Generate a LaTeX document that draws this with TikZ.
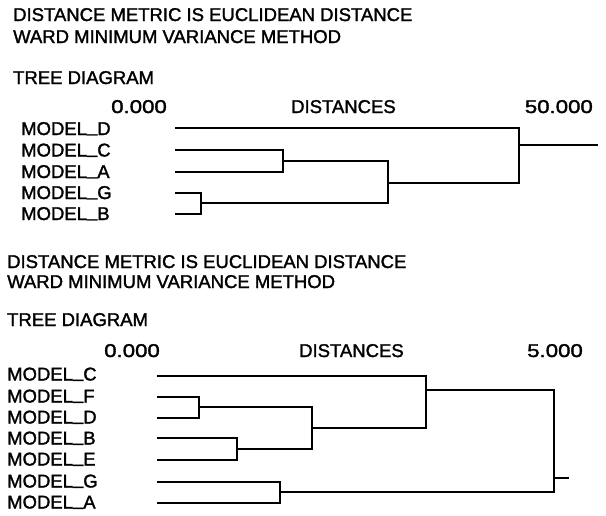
\documentclass[tikz,border=0pt]{standalone}
\usepackage{fontspec}
\setmainfont[FakeBold=1.6]{Liberation Sans}
\newcommand{\us}{\raisebox{3.2pt}{\_}}
\newcommand{\wnum}[1]{\scalebox{1.2}[1]{#1}}
\begin{document}
\begin{tikzpicture}[x=1pt,y=-1pt,
  txt/.style={inner sep=0pt, anchor=base west, font=\fontsize{18.5}{22}\selectfont},
  numtxt/.style={inner sep=0pt, anchor=base east, font=\fontsize{18.5}{22}\selectfont},
  tree/.style={line width=2pt, line cap=butt, line join=miter}]
\useasboundingbox (0,0) rectangle (606,515);
\fill[white] (0,0) rectangle (606,515);

% ---------- top diagram ----------
\node[txt] (h1a) at (13,21) {DISTANCE METRIC IS EUCLIDEAN DISTANCE};
\node[txt] (h1b) at (13,43) {WARD MINIMUM VARIANCE METHOD};
\node[txt] (h1c) at (13,84) {TREE DIAGRAM};
\node[numtxt] (z1) at (167,113) {\wnum{0.000}};
\node[txt] (d1) at (291,113) {DISTANCES};
\node[numtxt] (m1) at (593,113) {\wnum{50.000}};

\node[txt] (lD1) at (21,135) {MODEL\us D};
\node[txt] (lC1) at (21,156.5) {MODEL\us C};
\node[txt] (lA1) at (21,178) {MODEL\us A};
\node[txt] (lG1) at (21,199) {MODEL\us G};
\node[txt] (lB1) at (21,220) {MODEL\us B};

\coordinate (tD) at (175,128);
\coordinate (tC) at (175,150);
\coordinate (tA) at (175,172);
\coordinate (tG) at (175,193);
\coordinate (tB) at (175,214);
\coordinate (mCA) at (283,161);
\coordinate (mGB) at (201,203);
\coordinate (mCAGB) at (388,183);
\coordinate (mR1) at (519,145);
\coordinate (eR1) at (598,145);

\draw[tree] (tC) -| (mCA) |- (tA);
\draw[tree] (tG) -| (mGB) |- (tB);
\draw[tree] (mCA) -| (mCAGB) |- (mGB);
\draw[tree] (tD) -| (mR1) |- (mCAGB);
\draw[tree] (mR1) -- (eR1);

% ---------- bottom diagram ----------
\node[txt] (h2a) at (7,268) {DISTANCE METRIC IS EUCLIDEAN DISTANCE};
\node[txt] (h2b) at (7,288) {WARD MINIMUM VARIANCE METHOD};
\node[txt] (h2c) at (7,326) {TREE DIAGRAM};
\node[numtxt] (z2) at (160,357) {\wnum{0.000}};
\node[txt] (d2) at (299,357) {DISTANCES};
\node[numtxt] (m2) at (583,357) {\wnum{5.000}};

\node[txt] (lC2) at (7,380.5) {MODEL\us C};
\node[txt] (lF2) at (7,402.5) {MODEL\us F};
\node[txt] (lD2) at (7,423.5) {MODEL\us D};
\node[txt] (lB2) at (7,444.5) {MODEL\us B};
\node[txt] (lE2) at (7,465.5) {MODEL\us E};
\node[txt] (lG2) at (7,487.5) {MODEL\us G};
\node[txt] (lA2) at (7,508.5) {MODEL\us A};

\coordinate (bC) at (157,376);
\coordinate (bF) at (157,397);
\coordinate (bD) at (157,418);
\coordinate (bB) at (157,438);
\coordinate (bE) at (157,460);
\coordinate (bG) at (157,482);
\coordinate (bA) at (157,503);
\coordinate (mFD) at (199,407);
\coordinate (mBE) at (237,449);
\coordinate (mFDBE) at (312,428);
\coordinate (mC) at (426,390);
\coordinate (mGA) at (280,492);
\coordinate (mR2) at (554,478);
\coordinate (eR2) at (569,478);

\draw[tree] (bF) -| (mFD) |- (bD);
\draw[tree] (bB) -| (mBE) |- (bE);
\draw[tree] (bG) -| (mGA) |- (bA);
\draw[tree] (mFD) -| (mFDBE) |- (mBE);
\draw[tree] (bC) -| (mC) |- (mFDBE);
\draw[tree] (mC) -| (mR2) |- (mGA);
\draw[tree] (mR2) -- (eR2);
\end{tikzpicture}
\end{document}
